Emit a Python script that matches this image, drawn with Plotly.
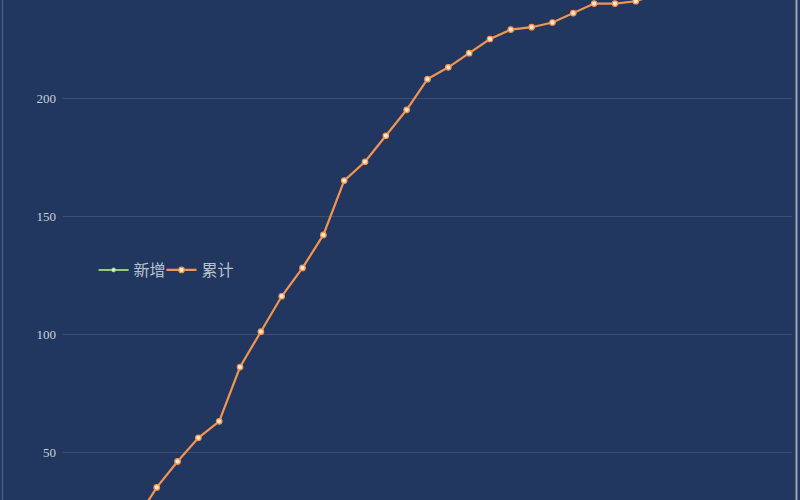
import plotly.graph_objects as go

# ---- data ----
dates = ["1/%d" % d for d in range(20, 32)] + ["2/%d" % d for d in range(1, 24)]
new_cases = [5, 4, 5, 7, 14, 11, 10, 7, 23, 15, 15, 12, 14, 23, 8, 11, 11, 13,
             5, 6, 6, 4, 1, 2, 4, 4, 0, 1, 3, 2, 2, 2, 1, 1, 1]
cumulative = [5, 9, 14, 21, 35, 46, 56, 63, 86, 101, 116, 128, 142, 165, 173, 184,
              195, 208, 213, 219, 225, 229, 230, 232, 236, 240, 240, 241, 244, 246,
              248, 250, 251, 252, 253]
series_names = ["新增", "累计"]
y_ticks = [50, 100, 150, 200]

BG = "#21375f"
TXT = "#b9c1ce"
TICK = "#c9d1de"

fig = go.Figure()
fig.add_trace(go.Scatter(
    x=dates, y=new_cases, name=series_names[0], mode="lines+markers",
    line=dict(color="#91cc75", width=2),
    marker=dict(size=4, color="#e8f5dc", line=dict(color="#91cc75", width=1)),
    legend="legend",
))
fig.add_trace(go.Scatter(
    x=dates, y=cumulative, name=series_names[1], mode="lines+markers",
    line=dict(color="#f39450", width=2.2),
    marker=dict(size=5.5, color="#ffe6cf", line=dict(color="#f39450", width=1.2)),
    legend="legend2",
))

legend_common = dict(
    orientation="h", y=0.46, xanchor="left", yanchor="middle",
    bgcolor="rgba(0,0,0,0)",
    font=dict(family="Noto Sans CJK SC", size=16, color=TXT),
    itemwidth=30,
)

fig.update_layout(
    width=800, height=500,
    paper_bgcolor=BG, plot_bgcolor=BG,
    margin=dict(l=63, r=8, t=0, b=0),
    showlegend=True,
    legend=dict(x=0.042, **legend_common),
    legend2=dict(x=0.1351, **legend_common),
    xaxis=dict(
        type="category", range=[-0.5, len(dates) - 0.5],
        showgrid=False, showticklabels=False, zeroline=False, showline=False,
        ticks="",
    ),
    yaxis=dict(
        range=[29.66, 241.53],
        tickvals=y_ticks, ticktext=[str(v) for v in y_ticks],
        showgrid=True, gridcolor="#434d6b", gridwidth=1,
        zeroline=False, showline=False, ticks="",
        tickfont=dict(family="Liberation Serif", size=13, color=TICK),
        ticklabelstandoff=6,
    ),
)

# frame edges seen in the screenshot
fig.add_shape(type="line", xref="paper", yref="paper",
              x0=(2.5 - 63) / 729, x1=(2.5 - 63) / 729, y0=0, y1=1,
              line=dict(color="#4a5d84", width=1.5))
fig.add_shape(type="line", xref="paper", yref="paper",
              x0=(796.5 - 63) / 729, x1=(796.5 - 63) / 729, y0=0, y1=1,
              line=dict(color="#9aa4b4", width=2))

fig.write_html(
    "out.html",
    config={"displayModeBar": False},
    post_script="document.body.style.margin='0';document.body.style.overflow='hidden';",
)
